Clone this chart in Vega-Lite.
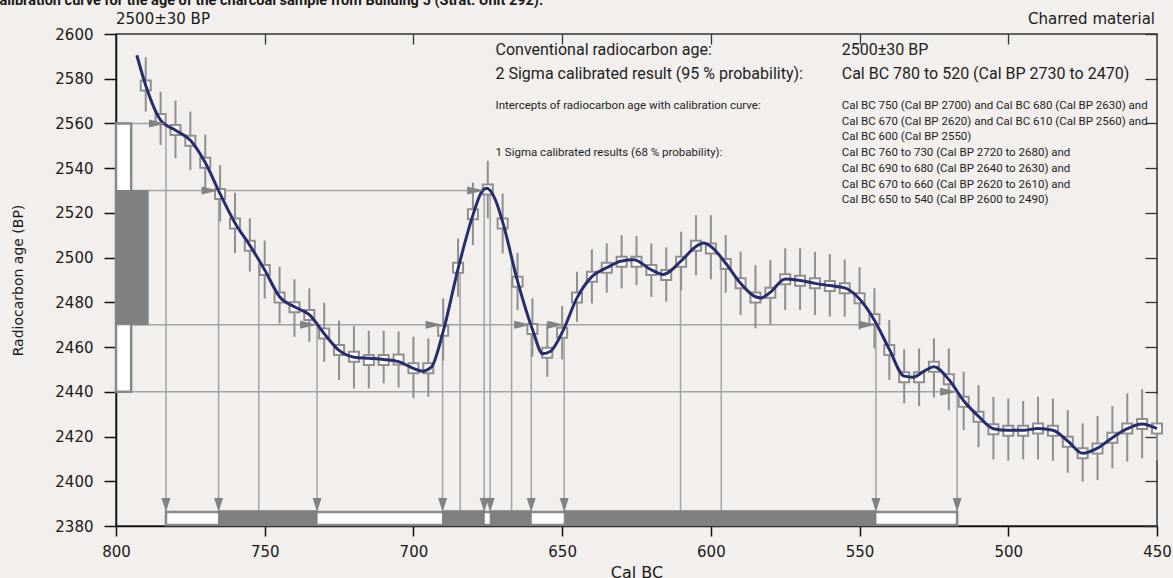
{
  "$schema": "https://vega.github.io/schema/vega-lite/v6.json",
  "width": 1041,
  "height": 492,
  "autosize": {"type": "none"},
  "padding": {"left": 116, "top": 34, "right": 16, "bottom": 52},
  "background": "#f2efec",
  "datasets": {
    "hlines": [
      {"level": 2560, "from": 800, "to": 783.2},
      {"level": 2530, "from": 800, "to": 674.2},
      {"level": 2470, "from": 800, "to": 544.5},
      {"level": 2440, "from": 800, "to": 517.2}
    ],
    "vlines": [
      {"year": 783.2, "level": 2560, "kind": "bound"},
      {"year": 765.5, "level": 2530, "kind": "bound"},
      {"year": 752.0, "level": 2500, "kind": "intercept"},
      {"year": 732.4, "level": 2470, "kind": "bound"},
      {"year": 690.2, "level": 2470, "kind": "bound"},
      {"year": 684.3, "level": 2500, "kind": "intercept"},
      {"year": 676.2, "level": 2530, "kind": "bound"},
      {"year": 674.2, "level": 2530, "kind": "bound"},
      {"year": 667.0, "level": 2500, "kind": "intercept"},
      {"year": 660.4, "level": 2470, "kind": "bound"},
      {"year": 649.3, "level": 2470, "kind": "bound"},
      {"year": 610.2, "level": 2500, "kind": "intercept"},
      {"year": 596.5, "level": 2500, "kind": "intercept"},
      {"year": 544.5, "level": 2470, "kind": "bound"},
      {"year": 517.2, "level": 2440, "kind": "bound"}
    ],
    "harrows": [
      {"year": 783.2, "level": 2560},
      {"year": 765.5, "level": 2530},
      {"year": 676.2, "level": 2530},
      {"year": 732.4, "level": 2470},
      {"year": 690.2, "level": 2470},
      {"year": 660.4, "level": 2470},
      {"year": 649.3, "level": 2470},
      {"year": 544.5, "level": 2470},
      {"year": 517.2, "level": 2440}
    ],
    "cal": [
      {"year": 790, "bp": 2577.0, "lo": 2565.3, "hi": 2589.6},
      {"year": 785, "bp": 2562.0, "lo": 2550.4, "hi": 2574.2},
      {"year": 780, "bp": 2557.1, "lo": 2544.4, "hi": 2570.2},
      {"year": 775, "bp": 2552.3, "lo": 2539.2, "hi": 2565.3},
      {"year": 770, "bp": 2542.4, "lo": 2530.2, "hi": 2555.1},
      {"year": 765, "bp": 2528.4, "lo": 2516.1, "hi": 2541.4},
      {"year": 760, "bp": 2515.3, "lo": 2502.0, "hi": 2529.0},
      {"year": 755, "bp": 2505.3, "lo": 2493.7, "hi": 2517.6},
      {"year": 750, "bp": 2494.5, "lo": 2481.8, "hi": 2507.6},
      {"year": 745, "bp": 2482.2, "lo": 2470.6, "hi": 2496.0},
      {"year": 740, "bp": 2477.8, "lo": 2464.6, "hi": 2490.3},
      {"year": 735, "bp": 2474.3, "lo": 2462.4, "hi": 2486.3},
      {"year": 730, "bp": 2466.1, "lo": 2453.4, "hi": 2479.8},
      {"year": 725, "bp": 2458.7, "lo": 2445.3, "hi": 2471.8},
      {"year": 720, "bp": 2455.7, "lo": 2441.5, "hi": 2469.4},
      {"year": 715, "bp": 2454.2, "lo": 2441.5, "hi": 2467.3},
      {"year": 710, "bp": 2454.2, "lo": 2443.8, "hi": 2467.3},
      {"year": 705, "bp": 2454.5, "lo": 2442.0, "hi": 2467.0},
      {"year": 700, "bp": 2450.5, "lo": 2437.1, "hi": 2464.6},
      {"year": 695, "bp": 2450.5, "lo": 2437.8, "hi": 2463.9},
      {"year": 690, "bp": 2467.3, "lo": 2454.0, "hi": 2481.8},
      {"year": 685, "bp": 2495.5, "lo": 2482.5, "hi": 2508.6},
      {"year": 680, "bp": 2519.4, "lo": 2505.6, "hi": 2533.5},
      {"year": 675, "bp": 2530.5, "lo": 2517.6, "hi": 2543.3},
      {"year": 670, "bp": 2515.3, "lo": 2501.9, "hi": 2528.7},
      {"year": 665, "bp": 2489.2, "lo": 2476.6, "hi": 2502.2},
      {"year": 660, "bp": 2468.1, "lo": 2455.7, "hi": 2481.8},
      {"year": 655, "bp": 2457.5, "lo": 2446.7, "hi": 2470.6},
      {"year": 650, "bp": 2466.4, "lo": 2454.5, "hi": 2478.4},
      {"year": 645, "bp": 2482.2, "lo": 2471.3, "hi": 2493.7},
      {"year": 640, "bp": 2491.5, "lo": 2479.5, "hi": 2503.7},
      {"year": 635, "bp": 2495.5, "lo": 2484.3, "hi": 2506.4},
      {"year": 630, "bp": 2498.2, "lo": 2486.3, "hi": 2510.0},
      {"year": 625, "bp": 2498.2, "lo": 2487.7, "hi": 2509.7},
      {"year": 620, "bp": 2494.5, "lo": 2482.5, "hi": 2506.4},
      {"year": 615, "bp": 2492.2, "lo": 2480.3, "hi": 2504.6},
      {"year": 610, "bp": 2498.2, "lo": 2485.5, "hi": 2511.6},
      {"year": 605, "bp": 2505.3, "lo": 2492.2, "hi": 2519.0},
      {"year": 600, "bp": 2504.1, "lo": 2490.3, "hi": 2519.0},
      {"year": 595, "bp": 2497.1, "lo": 2484.3, "hi": 2510.1},
      {"year": 590, "bp": 2488.5, "lo": 2474.3, "hi": 2502.6},
      {"year": 585, "bp": 2482.2, "lo": 2468.4, "hi": 2496.7},
      {"year": 580, "bp": 2484.3, "lo": 2469.9, "hi": 2498.9},
      {"year": 575, "bp": 2490.3, "lo": 2476.6, "hi": 2504.2},
      {"year": 570, "bp": 2489.7, "lo": 2476.6, "hi": 2504.2},
      {"year": 565, "bp": 2488.5, "lo": 2474.3, "hi": 2502.6},
      {"year": 560, "bp": 2487.3, "lo": 2473.6, "hi": 2501.6},
      {"year": 555, "bp": 2486.3, "lo": 2473.6, "hi": 2499.2},
      {"year": 550, "bp": 2481.8, "lo": 2467.9, "hi": 2495.7},
      {"year": 545, "bp": 2472.4, "lo": 2459.4, "hi": 2486.3},
      {"year": 540, "bp": 2458.7, "lo": 2445.3, "hi": 2472.1},
      {"year": 535, "bp": 2446.5, "lo": 2434.8, "hi": 2459.0},
      {"year": 530, "bp": 2446.5, "lo": 2433.6, "hi": 2459.4},
      {"year": 525, "bp": 2451.2, "lo": 2437.5, "hi": 2463.9},
      {"year": 520, "bp": 2445.6, "lo": 2431.8, "hi": 2459.4},
      {"year": 515, "bp": 2435.6, "lo": 2422.9, "hi": 2449.0},
      {"year": 510, "bp": 2428.9, "lo": 2415.2, "hi": 2443.0},
      {"year": 505, "bp": 2423.3, "lo": 2409.8, "hi": 2437.8},
      {"year": 500, "bp": 2422.6, "lo": 2409.2, "hi": 2437.0},
      {"year": 495, "bp": 2422.6, "lo": 2409.8, "hi": 2435.9},
      {"year": 490, "bp": 2423.6, "lo": 2409.8, "hi": 2437.8},
      {"year": 485, "bp": 2422.6, "lo": 2409.2, "hi": 2437.0},
      {"year": 480, "bp": 2417.7, "lo": 2403.8, "hi": 2431.8},
      {"year": 475, "bp": 2412.5, "lo": 2399.8, "hi": 2425.9},
      {"year": 470, "bp": 2414.7, "lo": 2400.5, "hi": 2429.2},
      {"year": 465, "bp": 2419.5, "lo": 2405.8, "hi": 2433.6},
      {"year": 460, "bp": 2423.6, "lo": 2408.8, "hi": 2439.3},
      {"year": 455, "bp": 2425.6, "lo": 2410.2, "hi": 2441.1},
      {"year": 450, "bp": 2423.6, "lo": 2409.2, "hi": 2439.0}
    ],
    "curve": [
      {"year": 793, "bp": 2590.5}, {"year": 790, "bp": 2577}, {"year": 785, "bp": 2561.5},
      {"year": 780, "bp": 2557}, {"year": 775, "bp": 2552.5}, {"year": 770, "bp": 2542.5},
      {"year": 765, "bp": 2528.5}, {"year": 760, "bp": 2515.5}, {"year": 755, "bp": 2505.5},
      {"year": 750, "bp": 2494.5}, {"year": 745, "bp": 2482.5}, {"year": 740, "bp": 2478},
      {"year": 735, "bp": 2474.5}, {"year": 730, "bp": 2466}, {"year": 725, "bp": 2458.5},
      {"year": 720, "bp": 2455.5}, {"year": 715, "bp": 2455}, {"year": 710, "bp": 2454.5},
      {"year": 705, "bp": 2453.5}, {"year": 700, "bp": 2450.5}, {"year": 697, "bp": 2449.2},
      {"year": 694, "bp": 2451}, {"year": 690, "bp": 2467}, {"year": 685, "bp": 2495},
      {"year": 680, "bp": 2519}, {"year": 677, "bp": 2529.5}, {"year": 675.3, "bp": 2531},
      {"year": 672.5, "bp": 2526}, {"year": 670, "bp": 2516}, {"year": 665, "bp": 2489.5},
      {"year": 660, "bp": 2468}, {"year": 656.5, "bp": 2457}, {"year": 654, "bp": 2458},
      {"year": 650, "bp": 2466.5}, {"year": 645, "bp": 2482}, {"year": 640, "bp": 2491.5},
      {"year": 635, "bp": 2495.5}, {"year": 630, "bp": 2498.5}, {"year": 626, "bp": 2499},
      {"year": 620, "bp": 2494.5}, {"year": 616, "bp": 2492.5}, {"year": 610, "bp": 2498.5},
      {"year": 605, "bp": 2505}, {"year": 602.5, "bp": 2506.5}, {"year": 600, "bp": 2505},
      {"year": 595, "bp": 2497.5}, {"year": 590, "bp": 2488.5}, {"year": 585, "bp": 2482.5},
      {"year": 583, "bp": 2482}, {"year": 580, "bp": 2484.5}, {"year": 575, "bp": 2490.5},
      {"year": 570, "bp": 2489.8}, {"year": 565, "bp": 2488.5}, {"year": 560, "bp": 2487.5},
      {"year": 555, "bp": 2486.5}, {"year": 550, "bp": 2481.5}, {"year": 545, "bp": 2472},
      {"year": 540, "bp": 2459}, {"year": 535, "bp": 2447}, {"year": 532, "bp": 2446.5},
      {"year": 528, "bp": 2449.5}, {"year": 525, "bp": 2451.2}, {"year": 520, "bp": 2445.5},
      {"year": 515, "bp": 2436}, {"year": 510, "bp": 2429}, {"year": 505, "bp": 2423.5},
      {"year": 500, "bp": 2422.8}, {"year": 495, "bp": 2422.8}, {"year": 490, "bp": 2423.6},
      {"year": 485, "bp": 2422.8}, {"year": 480, "bp": 2418}, {"year": 475, "bp": 2412.5},
      {"year": 470, "bp": 2414.8}, {"year": 465, "bp": 2419.5}, {"year": 460, "bp": 2423.5},
      {"year": 455, "bp": 2425.6}, {"year": 450, "bp": 2423.5}
    ],
    "agebox": [
      {"sigma": "2 sigma", "x0": 800, "x1": 794.9, "lo": 2440, "hi": 2560},
      {"sigma": "1 sigma", "x0": 800, "x1": 789.2, "lo": 2470, "hi": 2530}
    ],
    "ranges2": [
      {"sigma": "2 sigma", "from": 783.2, "to": 517.2}
    ],
    "ranges1": [
      {"sigma": "1 sigma", "from": 765.5, "to": 732.4},
      {"sigma": "1 sigma", "from": 690.2, "to": 676.2},
      {"sigma": "1 sigma", "from": 674.2, "to": 660.4},
      {"sigma": "1 sigma", "from": 649.3, "to": 544.5}
    ],
    "textLeftBig": [
      {"text": "Conventional radiocarbon age:", "at": 2592.85},
      {"text": "2 Sigma calibrated result (95 % probability):", "at": 2582.11}
    ],
    "textLeftSmall": [
      {"text": "Intercepts of radiocarbon age with calibration curve:", "at": 2567.81},
      {"text": "1 Sigma calibrated results (68 % probability):", "at": 2546.74}
    ],
    "textRightBig": [
      {"text": "2500±30 BP", "at": 2592.85},
      {"text": "Cal BC 780 to 520 (Cal BP 2730 to 2470)", "at": 2582.11}
    ],
    "textRightSmall": [
      {"text": "Cal BC 750 (Cal BP 2700) and Cal BC 680 (Cal BP 2630) and", "at": 2567.81},
      {"text": "Cal BC 670 (Cal BP 2620) and Cal BC 610 (Cal BP 2560) and", "at": 2560.78},
      {"text": "Cal BC 600 (Cal BP 2550)", "at": 2553.76},
      {"text": "Cal BC 760 to 730 (Cal BP 2720 to 2680) and", "at": 2546.74},
      {"text": "Cal BC 690 to 680 (Cal BP 2640 to 2630) and", "at": 2539.72},
      {"text": "Cal BC 670 to 660 (Cal BP 2620 to 2610) and", "at": 2532.70},
      {"text": "Cal BC 650 to 540 (Cal BP 2600 to 2490)", "at": 2525.68}
    ],
    "header": [
      {"text": "2500±30 BP", "year": 800, "side": "left"},
      {"text": "Charred material", "year": 450, "side": "right"}
    ],
    "heading": [
      {"text": "Calibration curve for the age of the charcoal sample from Building 5 (Strat. Unit 292).", "year": 800}
    ]
  },
  "resolve": {"axis": {"x": "independent", "y": "independent"}},
  "layer": [
    {
      "data": {"name": "hlines"},
      "mark": {"type": "rule", "color": "#a3a3a3", "strokeWidth": 1.5},
      "encoding": {
        "x": {
          "field": "from", "type": "quantitative",
          "scale": {"domain": [800, 450], "nice": false, "zero": false},
          "axis": {
            "orient": "bottom", "values": [800, 750, 700, 650, 600, 550, 500, 450], "format": "d",
            "title": "Cal BC", "grid": false, "tickSize": 10, "tickWidth": 1.5, "tickColor": "#111111",
            "domainColor": "#111111", "domainWidth": 1.5, "labelFont": "DejaVu Sans", "labelFontSize": 15,
            "labelColor": "#1a1a1a", "labelPadding": 8, "labelFlush": false, "labelOverlap": false,
            "titleFont": "DejaVu Sans", "titleFontSize": 16, "titleFontWeight": "normal", "titleColor": "#1a1a1a",
            "titlePadding": 5
          }
        },
        "x2": {"field": "to"},
        "y": {
          "field": "level", "type": "quantitative",
          "scale": {"domain": [2380, 2600], "nice": false, "zero": false},
          "axis": {
            "orient": "left", "values": [2380, 2400, 2420, 2440, 2460, 2480, 2500, 2520, 2540, 2560, 2580, 2600],
            "format": "d", "title": "Radiocarbon age (BP)", "grid": false, "tickSize": 12, "tickWidth": 1.5,
            "tickColor": "#111111", "domainColor": "#111111", "domainWidth": 1.5, "labelFont": "DejaVu Sans",
            "labelFontSize": 15, "labelColor": "#1a1a1a", "labelPadding": 11, "labelFlush": false,
            "labelOverlap": false, "titleFont": "DejaVu Sans", "titleFontSize": 14, "titleFontWeight": "normal",
            "titleColor": "#1a1a1a", "titlePadding": 29
          }
        }
      }
    },
    {
      "data": {"name": "vlines"},
      "mark": {"type": "rule", "color": "#a3a3a3", "strokeWidth": 1.5},
      "encoding": {
        "x": {
          "field": "year", "type": "quantitative",
          "axis": {
            "orient": "top", "values": [750, 700, 650, 600, 550, 500], "labels": false, "title": null,
            "grid": false, "domain": false, "tickSize": -10, "tickWidth": 1.3, "tickColor": "#333333"
          }
        },
        "y": {
          "field": "level", "type": "quantitative",
          "axis": {
            "orient": "right", "values": [2380, 2400, 2420, 2440, 2460, 2480, 2500, 2520, 2540, 2560, 2580, 2600],
            "labels": false, "title": null, "grid": false, "domain": false, "tickSize": -12, "tickWidth": 1.3,
            "tickColor": "#333333"
          }
        },
        "y2": {"datum": 2386}
      }
    },
    {
      "mark": {"type": "rule", "color": "#8c8c8c", "strokeWidth": 3.5},
      "encoding": {
        "x": {"datum": 800, "type": "quantitative", "axis": null},
        "x2": {"datum": 450},
        "y": {"datum": 2500, "type": "quantitative", "axis": null}
      }
    },
    {
      "data": {"name": "cal"},
      "mark": {"type": "rule", "color": "#8f8f8f", "strokeWidth": 2},
      "encoding": {
        "x": {"field": "year", "type": "quantitative", "axis": null},
        "y": {"field": "lo", "type": "quantitative", "axis": null},
        "y2": {"field": "hi"}
      }
    },
    {
      "data": {"name": "cal"},
      "mark": {"type": "point", "shape": "square", "size": 100, "fill": "#ffffff", "stroke": "#8f8f8f", "strokeWidth": 2, "opacity": 1, "fillOpacity": 1},
      "encoding": {
        "x": {"field": "year", "type": "quantitative", "axis": null},
        "y": {"field": "bp", "type": "quantitative", "axis": null}
      }
    },
    {
      "data": {"name": "curve"},
      "mark": {"type": "line", "color": "#252d6e", "strokeWidth": 3, "interpolate": "monotone"},
      "encoding": {
        "x": {"field": "year", "type": "quantitative", "axis": null},
        "y": {"field": "bp", "type": "quantitative", "axis": null},
        "order": {"field": "year", "sort": "descending"}
      }
    },
    {
      "data": {"name": "harrows"},
      "mark": {"type": "point", "shape": "M-2,-0.47L-2,0.47L0,0Z", "size": 289, "filled": true, "color": "#828282", "opacity": 1, "strokeWidth": 0},
      "encoding": {
        "x": {"field": "year", "type": "quantitative", "axis": null},
        "y": {"field": "level", "type": "quantitative", "axis": null}
      }
    },
    {
      "data": {"name": "vlines"},
      "transform": [{"filter": "datum.kind === 'bound'"}],
      "mark": {"type": "point", "shape": "M-0.64,-2L0.64,-2L0,0Z", "size": 196, "filled": true, "color": "#828282", "opacity": 1, "strokeWidth": 0},
      "encoding": {
        "x": {"field": "year", "type": "quantitative", "axis": null},
        "y": {"datum": 2386.3, "type": "quantitative", "axis": null}
      }
    },
    {
      "data": {"name": "agebox"},
      "transform": [{"filter": "datum.sigma === '2 sigma'"}],
      "mark": {"type": "rect", "fill": "#ffffff", "stroke": "#888888", "strokeWidth": 2.5},
      "encoding": {
        "x": {"field": "x0", "type": "quantitative", "axis": null},
        "x2": {"field": "x1"},
        "y": {"field": "lo", "type": "quantitative", "axis": null},
        "y2": {"field": "hi"}
      }
    },
    {
      "data": {"name": "agebox"},
      "transform": [{"filter": "datum.sigma === '1 sigma'"}],
      "mark": {"type": "rect", "fill": "#808080", "stroke": "#808080", "strokeWidth": 1},
      "encoding": {
        "x": {"field": "x0", "type": "quantitative", "axis": null},
        "x2": {"field": "x1"},
        "y": {"field": "lo", "type": "quantitative", "axis": null},
        "y2": {"field": "hi"}
      }
    },
    {
      "data": {"name": "ranges2"},
      "mark": {"type": "rect", "fill": "#ffffff", "stroke": "#888888", "strokeWidth": 2.5},
      "encoding": {
        "x": {"field": "from", "type": "quantitative", "axis": null},
        "x2": {"field": "to"},
        "y": {"datum": 2380.4, "type": "quantitative", "axis": null},
        "y2": {"datum": 2386.3}
      }
    },
    {
      "data": {"name": "ranges1"},
      "mark": {"type": "rect", "fill": "#808080", "stroke": "#808080", "strokeWidth": 1},
      "encoding": {
        "x": {"field": "from", "type": "quantitative", "axis": null},
        "x2": {"field": "to"},
        "y": {"datum": 2380.2, "type": "quantitative", "axis": null},
        "y2": {"datum": 2386.8}
      }
    },
    {
      "data": {"name": "textLeftBig"},
      "mark": {"type": "text", "align": "left", "baseline": "middle", "font": "Roboto", "fontSize": 16, "color": "#1e1e1e"},
      "encoding": {
        "x": {"datum": 672.4, "type": "quantitative", "axis": null},
        "y": {"field": "at", "type": "quantitative", "axis": null},
        "text": {"field": "text"}
      }
    },
    {
      "data": {"name": "textLeftSmall"},
      "mark": {"type": "text", "align": "left", "baseline": "middle", "font": "Roboto", "fontSize": 11.5, "color": "#1e1e1e"},
      "encoding": {
        "x": {"datum": 672.4, "type": "quantitative", "axis": null},
        "y": {"field": "at", "type": "quantitative", "axis": null},
        "text": {"field": "text"}
      }
    },
    {
      "data": {"name": "textRightBig"},
      "mark": {"type": "text", "align": "left", "baseline": "middle", "font": "Roboto", "fontSize": 16, "color": "#1e1e1e"},
      "encoding": {
        "x": {"datum": 556.0, "type": "quantitative", "axis": null},
        "y": {"field": "at", "type": "quantitative", "axis": null},
        "text": {"field": "text"}
      }
    },
    {
      "data": {"name": "textRightSmall"},
      "mark": {"type": "text", "align": "left", "baseline": "middle", "font": "Roboto", "fontSize": 11.5, "color": "#1e1e1e"},
      "encoding": {
        "x": {"datum": 556.0, "type": "quantitative", "axis": null},
        "y": {"field": "at", "type": "quantitative", "axis": null},
        "text": {"field": "text"}
      }
    },
    {
      "data": {"name": "header"},
      "transform": [{"filter": "datum.side === 'left'"}],
      "mark": {"type": "text", "align": "left", "baseline": "middle", "font": "DejaVu Sans", "fontSize": 15, "color": "#1a1a1a", "dy": -15},
      "encoding": {
        "x": {"field": "year", "type": "quantitative", "axis": null},
        "y": {"datum": 2600, "type": "quantitative", "axis": null},
        "text": {"field": "text"}
      }
    },
    {
      "data": {"name": "header"},
      "transform": [{"filter": "datum.side === 'right'"}],
      "mark": {"type": "text", "align": "right", "baseline": "middle", "font": "DejaVu Sans", "fontSize": 15, "color": "#1a1a1a", "dy": -15, "dx": -2},
      "encoding": {
        "x": {"field": "year", "type": "quantitative", "axis": null},
        "y": {"datum": 2600, "type": "quantitative", "axis": null},
        "text": {"field": "text"}
      }
    },
    {
      "data": {"name": "heading"},
      "mark": {"type": "text", "align": "left", "baseline": "alphabetic", "font": "Roboto", "fontSize": 14.5, "fontWeight": "bold", "color": "#1a1a1a", "dx": -126, "dy": -29},
      "encoding": {
        "x": {"field": "year", "type": "quantitative", "axis": null},
        "y": {"datum": 2600, "type": "quantitative", "axis": null},
        "text": {"field": "text"}
      }
    }
  ],
  "config": {
    "view": {"stroke": "#333333", "strokeWidth": 1.5},
    "axis": {"zindex": 1}
  }
}
